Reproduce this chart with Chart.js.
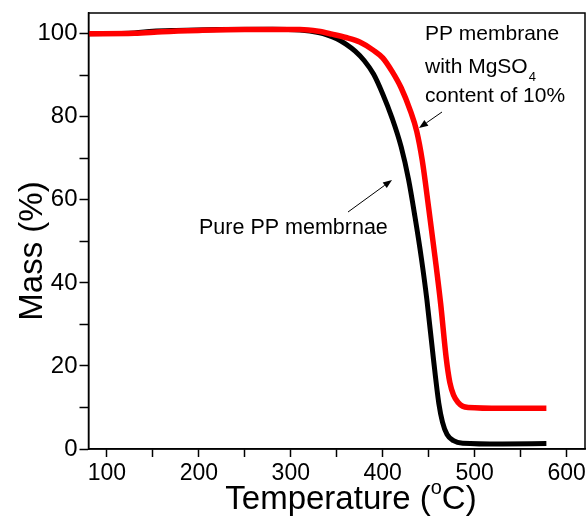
<!DOCTYPE html>
<html>
<head>
<meta charset="utf-8">
<script src="https://cdn.jsdelivr.net/npm/chart.js@4"></script>
<style>
  body { margin: 0; background: #fff; }
  #wrap { width: 587px; height: 520px; }
</style>
</head>
<body>
<div id="wrap"><canvas id="tga" width="587" height="520"></canvas></div>
<script>
// data
var pureTemp = [80, 130, 150, 175, 220, 280, 310, 330, 340, 350, 360, 370, 380, 390, 400, 410, 420, 428, 435, 442, 448, 455, 461, 465, 470, 477, 487, 530, 578];
var pureMass = [100, 100.2, 100.6, 100.8, 101, 101.1, 100.9, 100.3, 99.7, 98.8, 97.5, 95.8, 93.5, 90.3, 85.5, 79.8, 72.8, 65, 56, 46, 36, 22, 11, 6.5, 3.5, 2, 1.4, 1.2, 1.3];
var mgTemp = [80, 130, 160, 200, 250, 310, 330, 345, 360, 375, 390, 400, 410, 420, 430, 437, 443, 450, 457, 463, 469, 473, 477, 482, 487, 493, 530, 578];
var mgMass = [100, 100.1, 100.5, 100.8, 101, 101, 100.6, 99.9, 99.1, 98, 96, 94.2, 91, 87, 81.5, 76.5, 69.5, 58, 46, 35, 22, 16, 13, 11.2, 10.3, 10, 9.8, 9.8];
var xTicks = [100, 150, 200, 250, 300, 350, 400, 450, 500, 550, 600];
var yTicks = [0, 10, 20, 30, 40, 50, 60, 70, 80, 90, 100];

function pts(xs, ys) {
  return xs.map(function (x, i) { return { x: x, y: ys[i] }; });
}

var FONT = '"Liberation Sans", Arial, sans-serif';

function arrow(ctx, x1, y1, x2, y2) {
  var a = Math.atan2(y2 - y1, x2 - x1), h = 9, w = 3.5;
  ctx.beginPath();
  ctx.moveTo(x1, y1);
  ctx.lineTo(x2 - h * Math.cos(a), y2 - h * Math.sin(a));
  ctx.stroke();
  ctx.beginPath();
  ctx.moveTo(x2, y2);
  ctx.lineTo(x2 - h * Math.cos(a) + w * Math.sin(a), y2 - h * Math.sin(a) - w * Math.cos(a));
  ctx.lineTo(x2 - h * Math.cos(a) - w * Math.sin(a), y2 - h * Math.sin(a) + w * Math.cos(a));
  ctx.closePath();
  ctx.fill();
}

var extras = {
  id: 'extras',
  afterDraw: function (chart) {
    var ctx = chart.ctx, a = chart.chartArea;
    ctx.save();
    // frame
    ctx.strokeStyle = '#000';
    ctx.lineWidth = 1.5;
    ctx.strokeRect(a.left, a.top, a.right - a.left, a.bottom - a.top);

    ctx.fillStyle = '#000';
    ctx.textBaseline = 'alphabetic';
    ctx.textAlign = 'left';
    ctx.font = '21px ' + FONT;
    ctx.fillText('PP membrane', 425, 40);
    ctx.fillText('with MgSO', 425, 73);
    var w = ctx.measureText('with MgSO').width;
    ctx.font = '13px ' + FONT;
    ctx.fillText('4', 425 + w + 1, 81);
    ctx.font = '21px ' + FONT;
    ctx.fillText('content of 10%', 425, 102);
    ctx.font = '21.5px ' + FONT;
    ctx.fillText('Pure PP membrnae', 199, 234);

    ctx.lineWidth = 1;
    arrow(ctx, 442, 112, 419, 128);
    arrow(ctx, 348, 212, 392, 180);

    // x title with superscript
    ctx.font = '33px ' + FONT;
    var p1 = 'Temperature (', p2 = 'C)';
    var w1 = ctx.measureText(p1).width, w2 = ctx.measureText(p2).width;
    ctx.font = '20px ' + FONT;
    var wo = ctx.measureText('o').width;
    var x0 = 351 - (w1 + wo + w2) / 2, base = 509;
    ctx.font = '33px ' + FONT;
    ctx.fillText(p1, x0, base);
    ctx.font = '20px ' + FONT;
    ctx.fillText('o', x0 + w1, base - 15);
    ctx.font = '33px ' + FONT;
    ctx.fillText(p2, x0 + w1 + wo, base);

    // y title
    ctx.translate(42, 251);
    ctx.rotate(-Math.PI / 2);
    ctx.textAlign = 'center';
    ctx.fillText('Mass (%)', 0, 0);
    ctx.restore();
  }
};

new Chart(document.getElementById('tga'), {
  type: 'line',
  data: {
    datasets: [
      {
        label: 'PP membrane with MgSO4 content of 10%',
        data: pts(mgTemp, mgMass),
        borderColor: '#ff0000',
        borderWidth: 5.5,
        pointRadius: 0,
        fill: false,
        cubicInterpolationMode: 'monotone'
      },
      {
        label: 'Pure PP membrnae',
        data: pts(pureTemp, pureMass),
        borderColor: '#000000',
        borderWidth: 5,
        pointRadius: 0,
        fill: false,
        cubicInterpolationMode: 'monotone'
      }
    ]
  },
  options: {
    responsive: false,
    animation: false,
    layout: { padding: { top: 13, right: 2, left: 0, bottom: 0 } },
    plugins: { legend: { display: false }, tooltip: { enabled: false } },
    scales: {
      x: {
        type: 'linear',
        min: 80,
        max: 620,
        afterBuildTicks: function (s) { s.ticks = xTicks.map(function (v) { return { value: v }; }); },
        afterFit: function (s) { s.height = 71; s.paddingLeft = 0; s.paddingRight = 0; },
        ticks: {
          autoSkip: false,
          maxRotation: 0,
          padding: 3,
          color: '#000',
          font: { family: FONT, size: 23 },
          callback: function (v) { return v % 100 === 0 ? v : ''; }
        },
        grid: { drawOnChartArea: false, tickLength: 8, tickWidth: 1.5, tickColor: '#000' },
        border: { color: '#000', width: 1.5 }
      },
      y: {
        min: 0,
        max: 105,
        afterBuildTicks: function (s) { s.ticks = yTicks.map(function (v) { return { value: v }; }); },
        afterFit: function (s) { s.width = 88.5; s.paddingTop = 0; s.paddingBottom = 0; },
        ticks: {
          autoSkip: false,
          padding: 2,
          color: '#000',
          font: { family: FONT, size: 24 },
          callback: function (v) { return v % 20 === 0 ? v : ''; }
        },
        grid: { drawOnChartArea: false, tickLength: 9, tickWidth: 1.5, tickColor: '#000' },
        border: { color: '#000', width: 1.5 }
      }
    }
  },
  plugins: [extras]
});
</script>
</body>
</html>
